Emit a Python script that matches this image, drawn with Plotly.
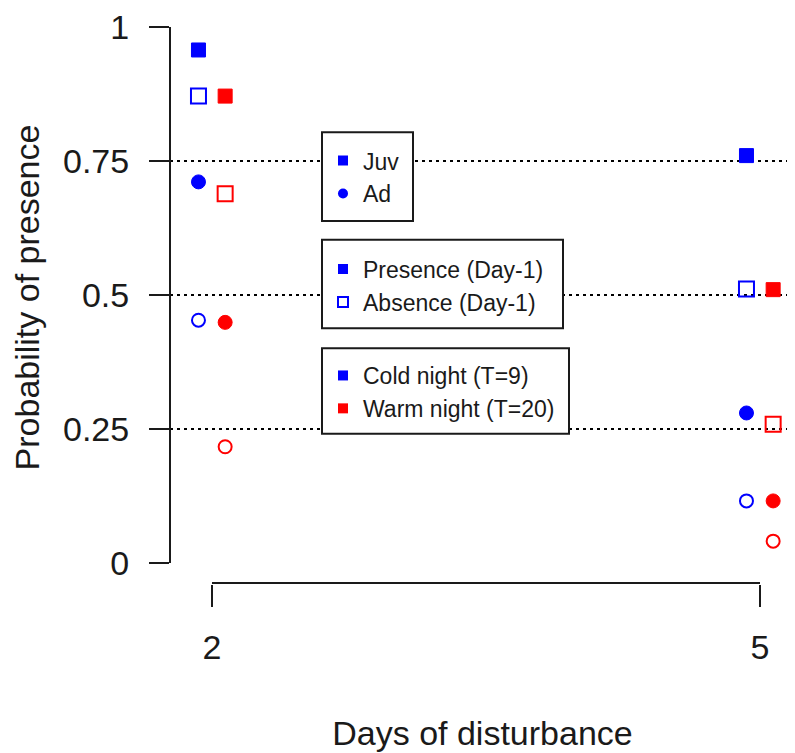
import numpy as np
import plotly.graph_objects as go

# ---------------- data ----------------
days = [2, 5]
day_labels = ["2", "5"]
y_ticks = [0, 0.25, 0.5, 0.75, 1]
y_tick_labels = ["0", "0.25", "0.5", "0.75", "1"]
ref_lines = [0.25, 0.5, 0.75]

# probability of presence at day 2 and day 5
juv_pres_cold = [0.957, 0.760]
juv_abs_cold = [0.871, 0.511]
juv_pres_warm = [0.871, 0.510]
juv_abs_warm = [0.689, 0.259]
ad_pres_cold = [0.711, 0.280]
ad_abs_cold = [0.453, 0.116]
ad_pres_warm = [0.449, 0.116]
ad_abs_warm = [0.217, 0.041]

series = [
    (juv_pres_cold, "Juv", "pres", "cold"),
    (juv_abs_cold, "Juv", "abs", "cold"),
    (juv_pres_warm, "Juv", "pres", "warm"),
    (juv_abs_warm, "Juv", "abs", "warm"),
    (ad_pres_cold, "Ad", "pres", "cold"),
    (ad_abs_cold, "Ad", "abs", "cold"),
    (ad_pres_warm, "Ad", "pres", "warm"),
    (ad_abs_warm, "Ad", "abs", "warm"),
]

# ---------------- styling ----------------
FONT = "Liberation Sans, Arial, sans-serif"
INK = "#1a1a1a"
colors = {"cold": "#0000FF", "warm": "#FF0000"}
offsets = {"cold": -0.074, "warm": 0.072}

# page has an 8px body margin, so the figure is made 8px smaller
PAGE_MARGIN = 8
W, H = 795 - PAGE_MARGIN, 753 - PAGE_MARGIN

# plot area in page pixels
PL, PR, PT, PB = 170, 795, 8, 584
L, R, T, B = PL - PAGE_MARGIN, 795 - PR, PT - PAGE_MARGIN, (753 - PB)
plot_w = PR - PL
plot_h = PB - PT

Y0_PX, Y1_PX = 563, 24          # page pixel of y=0 and y=1
X2_PX, X5_PX = 212, 760         # page pixel of x=2 and x=5
ypx_per = (Y0_PX - Y1_PX) / 1.0
xpx_per = (X5_PX - X2_PX) / 3.0


def px_x(px):
    return (px - PL) / plot_w


def px_y(py):
    return (PB - py) / plot_h


def marker_style(age, prev, temp):
    c = colors[temp]
    sym = "square" if age == "Juv" else "circle"
    if prev == "abs":
        sym += "-open"
        size = 15 if age == "Juv" else 13
        lw = 2
    else:
        size = 14
        lw = 1
    return dict(symbol=sym, size=size, color=c, line=dict(color=c, width=lw))


fig = go.Figure()

for vals, age, prev, temp in series:
    fig.add_trace(go.Scatter(
        x=np.array(days, dtype=float) + offsets[temp],
        y=vals,
        mode="markers",
        marker=marker_style(age, prev, temp),
        showlegend=False,
        hoverinfo="skip",
    ))

# legend entries (dummy traces)
legend_entries = [
    ("legend", "Juv", dict(symbol="square", size=10, color=colors["cold"])),
    ("legend", "Ad", dict(symbol="circle", size=10, color=colors["cold"])),
    ("legend2", "Presence (Day-1)", dict(symbol="square", size=10, color=colors["cold"])),
    ("legend2", "Absence (Day-1)", dict(symbol="square-open", size=10, color=colors["cold"],
                                         line=dict(width=2, color=colors["cold"]))),
    ("legend3", "Cold night (T=9)", dict(symbol="square", size=10, color=colors["cold"])),
    ("legend3", "Warm night (T=20)", dict(symbol="square", size=10, color=colors["warm"])),
]
for lg, name, mk in legend_entries:
    fig.add_trace(go.Scatter(x=[None], y=[None], mode="markers", name=name,
                             marker=mk, legend=lg, showlegend=True))

shapes = []
# dotted reference lines
for v in ref_lines:
    shapes.append(dict(type="line", xref="paper", x0=0, x1=1, yref="y", y0=v, y1=v,
                       line=dict(color="#000", width=2, dash="3px,4px"), layer="below"))
# axis lines spanning tick range (R style)
shapes.append(dict(type="line", xref="paper", x0=0, x1=0, yref="y",
                   y0=y_ticks[0], y1=y_ticks[-1], line=dict(color=INK, width=2)))
shapes.append(dict(type="line", xref="x", x0=days[0], x1=days[-1], yref="paper",
                   y0=px_y(583), y1=px_y(583), line=dict(color=INK, width=2)))
# legend boxes (page pixels)
boxes = [(322, 130, 413, 219), (322, 238, 563, 327), (322, 347, 569, 433)]
for x0, y0, x1, y1 in boxes:
    shapes.append(dict(type="rect", xref="paper", yref="paper",
                       x0=px_x(x0), x1=px_x(x1), y0=px_y(y1), y1=px_y(y0),
                       line=dict(color=INK, width=2), fillcolor="white", layer="above"))

legend_common = dict(xanchor="left", yanchor="middle", bgcolor="rgba(0,0,0,0)",
                     borderwidth=0, font=dict(family=FONT, size=23, color=INK),
                     traceorder="normal")

fig.update_layout(
    width=W, height=H,
    margin=dict(l=L, r=R, t=T, b=B, pad=0),
    paper_bgcolor="white", plot_bgcolor="white",
    font=dict(family=FONT, color=INK),
    shapes=shapes,
    legend=dict(x=px_x(323), y=px_y(175), **legend_common),
    legend2=dict(x=px_x(323), y=px_y(284), **legend_common),
    legend3=dict(x=px_x(323), y=px_y(391), **legend_common),
    xaxis=dict(
        range=[2 - (X2_PX - PL) / xpx_per, 2 + (PR - X2_PX) / xpx_per],
        tickvals=days, ticktext=day_labels,
        ticks="outside", ticklen=22, tickwidth=2, tickcolor=INK,
        showgrid=False, zeroline=False, showline=False,
        tickfont=dict(family=FONT, size=34, color=INK),
        ticklabelstandoff=11, ticklabeloverflow="allow",
        title=dict(text="Days of disturbance", font=dict(family=FONT, size=34, color=INK),
                   standoff=56),
    ),
    yaxis=dict(
        range=[-(PB - Y0_PX) / ypx_per, 1 + (Y1_PX - PT) / ypx_per],
        tickvals=y_ticks, ticktext=y_tick_labels,
        ticks="outside", ticklen=20, tickwidth=2, tickcolor=INK,
        showgrid=False, zeroline=False, showline=False,
        tickfont=dict(family=FONT, size=34, color=INK),
        ticklabelstandoff=13, ticklabeloverflow="allow",
        title=dict(text="Probability of presence", font=dict(family=FONT, size=34, color=INK),
                   standoff=14),
    ),
)

fig.write_html("out.html")
